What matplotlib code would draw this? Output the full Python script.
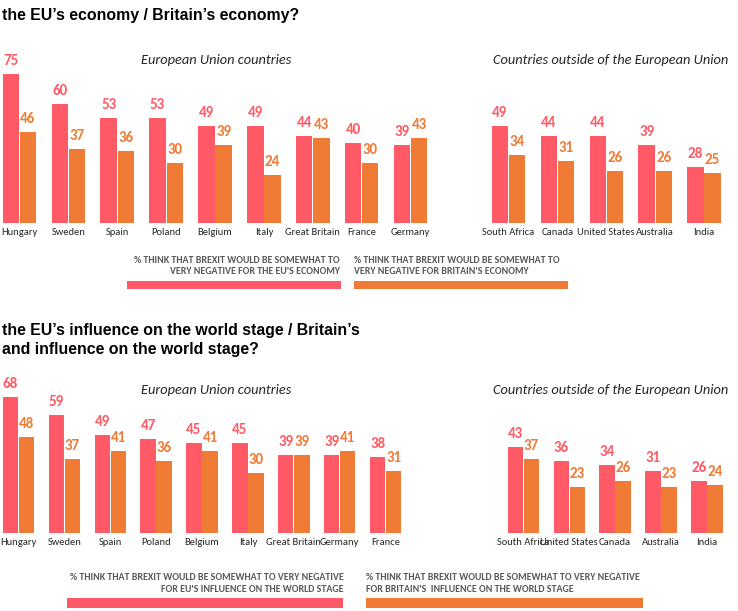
import numpy as np
import matplotlib
matplotlib.use("Agg")
import matplotlib.pyplot as plt
from matplotlib import font_manager
from matplotlib.patches import Rectangle

# ---------------- data ----------------
top_eu_countries = ['Hungary', 'Sweden', 'Spain', 'Poland', 'Belgium', 'Italy',
                    'Great Britain', 'France', 'Germany']
top_eu_red = [75, 60, 53, 53, 49, 49, 44, 40, 39]
top_eu_orange = [46, 37, 36, 30, 39, 24, 43, 30, 43]
top_out_countries = ['South Africa', 'Canada', 'United States', 'Australia', 'India']
top_out_red = [49, 44, 44, 39, 28]
top_out_orange = [34, 31, 26, 26, 25]

bot_eu_countries = ['Hungary', 'Sweden', 'Spain', 'Poland', 'Belgium', 'Italy',
                    'Great Britain', 'Germany', 'France']
bot_eu_red = [68, 59, 49, 47, 45, 45, 39, 39, 38]
bot_eu_orange = [48, 37, 41, 36, 41, 30, 39, 41, 31]
bot_out_countries = ['South Africa', 'United States', 'Canada', 'Australia', 'India']
bot_out_red = [43, 36, 34, 31, 26]
bot_out_orange = [37, 23, 26, 23, 24]

top_title = "the EU\u2019s economy / Britain\u2019s economy?"
bot_title_1 = "the EU\u2019s influence on the world stage / Britain\u2019s"
bot_title_2 = "and influence on the world stage?"
eu_header = "European Union countries"
out_header = "Countries outside of the European Union"
top_leg_red = "% THINK THAT BREXIT WOULD BE SOMEWHAT TO\nVERY NEGATIVE FOR THE EU'S ECONOMY"
top_leg_orange = "% THINK THAT BREXIT WOULD BE SOMEWHAT TO\nVERY NEGATIVE FOR BRITAIN'S ECONOMY"
bot_leg_red = "% THINK THAT BREXIT WOULD BE SOMEWHAT TO VERY NEGATIVE\nFOR EU'S INFLUENCE ON THE WORLD STAGE"
bot_leg_orange = "% THINK THAT BREXIT WOULD BE SOMEWHAT TO VERY NEGATIVE\nFOR BRITAIN'S  INFLUENCE ON THE WORLD STAGE"

# ---------------- style ----------------
RED = '#FF5A65'
ORANGE = '#F07B34'
GRAY_TXT = '#595959'
DARK = '#262626'

names = {f.name for f in font_manager.fontManager.ttflist}
def pick(*cands):
    for c in cands:
        if c in names:
            return c
    return 'DejaVu Sans'

HUMAN = pick('Carlito', 'Lato', 'Open Sans', 'Noto Sans')
ARIAL = pick('Liberation Sans', 'Arimo', 'DejaVu Sans')

W, H = 738, 611
fig = plt.figure(figsize=(W / 100, H / 100), dpi=100)
fig.patch.set_facecolor('white')
renderer = fig.canvas.get_renderer()


def px_axes(left, right, base, top):
    return fig.add_axes([left / W, 1 - base / H, (right - left) / W, (base - top) / H])


def place(x, y, s, target_w=None, size=10, **kw):
    t = fig.text(x / W, 1 - y / H, s, fontsize=size, **kw)
    if target_w is not None:
        w = t.get_window_extent(renderer).width
        t.set_fontsize(size * target_w / w)
    return t


def fit_size(s, target_w, **kw):
    t = fig.text(0, 0, s, fontsize=10, **kw)
    w = t.get_window_extent(renderer).width
    t.remove()
    return 10 * target_w / w


def panel(ax, pos_eu, pos_out, eu_c, out_c, eu_r, eu_o, out_r, out_o, ymax):
    pos = np.concatenate([pos_eu, pos_out])
    reds = list(eu_r) + list(out_r)
    oranges = list(eu_o) + list(out_o)
    labels = list(eu_c) + list(out_c)
    bw = 0.335
    off = 0.35
    ax.bar(pos, reds, width=bw, align='edge', color=RED, linewidth=0)
    ax.bar(pos + off, oranges, width=bw, align='edge', color=ORANGE, linewidth=0)
    for x, v in zip(pos, reds):
        ax.annotate(str(v), (x + bw / 2, v), xytext=(0, 6.5), textcoords='offset points',
                    ha='center', va='baseline', color=RED, fontsize=10.8,
                    fontweight='bold', family=HUMAN)
    for x, v in zip(pos, oranges):
        ax.annotate(str(v), (x + off + bw / 2, v), xytext=(0, 6.5), textcoords='offset points',
                    ha='center', va='baseline', color=ORANGE, fontsize=10.8,
                    fontweight='bold', family=HUMAN)
    ax.set_xticks(pos + (off + bw) / 2)
    ax.set_xticklabels(labels, family=HUMAN, fontsize=7.6, color=DARK)
    ax.tick_params(axis='x', length=0, pad=4)
    ax.set_yticks([])
    for sp in ax.spines.values():
        sp.set_visible(False)
    ax.set_ylim(0, ymax)
    ax.patch.set_alpha(0)


# ---------------- top panel ----------------
u_top = 48.9
ax1 = px_axes(2.7, 2.7 + u_top * 14.7, 222.7, 222.7 - 80 * 1.98)
ax1.set_xlim(0, 14.7)
panel(ax1, np.arange(9), np.arange(5) + 10, top_eu_countries, top_out_countries,
      top_eu_red, top_eu_orange, top_out_red, top_out_orange, 80)

# ---------------- bottom panel ----------------
u_bot = 45.9
ax2 = px_axes(2.7, 2.7 + u_bot * 15.7, 532.7, 532.7 - 75 * 2.0)
ax2.set_xlim(0, 15.7)
panel(ax2, np.arange(9), np.arange(5) + 11, bot_eu_countries, bot_out_countries,
      bot_eu_red, bot_eu_orange, bot_out_red, bot_out_orange, 75)

# ---------------- titles ----------------
place(2, 15.5, top_title, target_w=296, family=ARIAL, fontweight='bold',
      color='black', ha='left', va='center')
tsize = fit_size(bot_title_1, 358, family=ARIAL, fontweight='bold')
place(2, 330, bot_title_1, size=tsize, family=ARIAL, fontweight='bold',
      color='black', ha='left', va='center')
place(2, 349.5, bot_title_2, size=tsize, family=ARIAL, fontweight='bold',
      color='black', ha='left', va='center')

hsize = fit_size(out_header, 234, family=HUMAN, style='italic', fontweight='medium')
for y in (60, 390.5):
    place(216, y, eu_header, size=hsize, family=HUMAN, style='italic', color=DARK,
          fontweight='medium', ha='center', va='center')
    place(611, y, out_header, size=hsize, family=HUMAN, style='italic', color=DARK,
          fontweight='medium', ha='center', va='center')

# ---------------- legends ----------------
lsize = fit_size("% THINK THAT BREXIT WOULD BE SOMEWHAT TO", 205, family=HUMAN,
                 fontweight='semibold')
lkw = dict(size=lsize, family=HUMAN, color=GRAY_TXT, fontweight='semibold',
           va='center', linespacing=1.3)
place(340, 266, top_leg_red, ha='right', multialignment='right', **lkw)
place(354, 266, top_leg_orange, ha='left', multialignment='left', **lkw)
place(343.3, 583.5, bot_leg_red, ha='right', multialignment='right', **lkw)
place(366, 583.5, bot_leg_orange, ha='left', multialignment='left', **lkw)


def rect_px(x0, x1, y0, y1, c):
    fig.patches.append(Rectangle((x0 / W, 1 - y1 / H), (x1 - x0) / W, (y1 - y0) / H,
                                 transform=fig.transFigure, color=c, linewidth=0))

rect_px(127.3, 340.7, 280.7, 289.3, RED)
rect_px(354, 567.7, 280.7, 289.3, ORANGE)
rect_px(67.3, 343.3, 598.3, 608, RED)
rect_px(366, 643.3, 598.3, 608, ORANGE)

fig.savefig('out.png', dpi=100)
